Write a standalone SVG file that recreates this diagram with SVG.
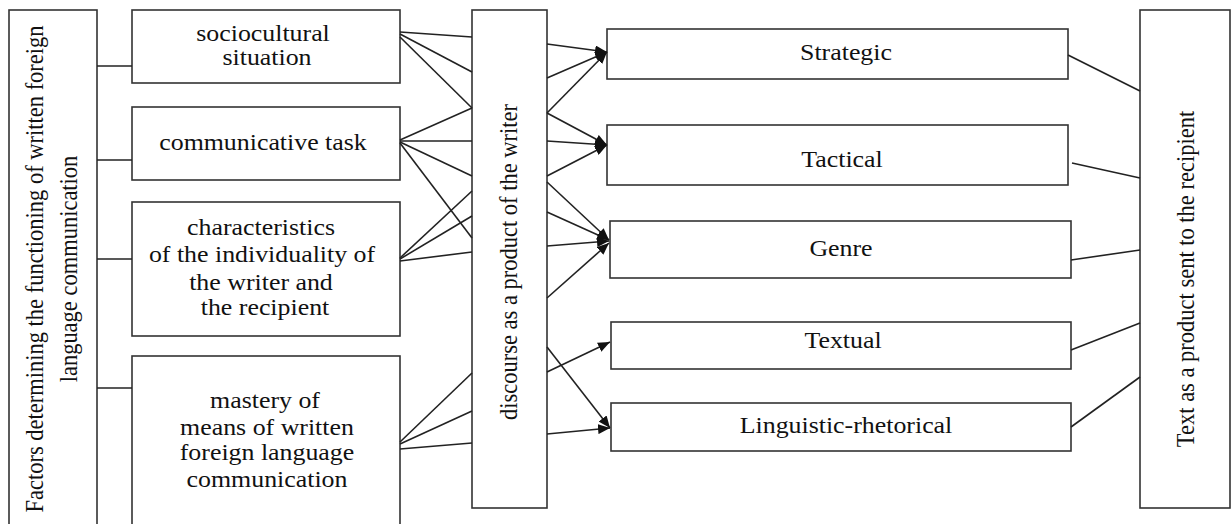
<svg xmlns="http://www.w3.org/2000/svg" width="1232" height="524" viewBox="0 0 1232 524">
<style>
.box{fill:#fff;stroke:#333;stroke-width:1.6}
.t{font-size:22.5px;fill:#111;text-anchor:middle}
.c{stroke:#222;stroke-width:1.6;fill:none}
.a{stroke:#222;stroke-width:1.6;fill:none;marker-end:url(#arr)}
</style>
<defs>
<marker id="arr" markerUnits="userSpaceOnUse" markerWidth="12" markerHeight="10" viewBox="0 0 12 10" refX="12" refY="5" orient="auto">
<path d="M0,0 L12,5 L0,10 z" fill="#111"/>
</marker>
</defs>
<rect width="1232" height="524" fill="#fff"/>
<g font-family="Liberation Serif, DejaVu Serif, serif">
<g id="factors">
<rect class="box" x="9" y="10" width="88" height="530"/>
<text class="t" transform="translate(43,269) scale(1.15,1) rotate(-90)">Factors determining the functioning of written foreign</text>
<text class="t" transform="translate(77,269) scale(1.15,1) rotate(-90)">language communication</text>
</g>

<g id="sociocultural">
<rect class="box" x="132" y="10" width="268" height="73"/>
<text class="t" transform="translate(263,41) scale(1.15,1)">sociocultural</text>
<text class="t" transform="translate(267,65) scale(1.15,1)">situation</text>
</g>

<g id="communicative">
<rect class="box" x="132" y="107" width="268" height="73"/>
<text class="t" transform="translate(263,150) scale(1.15,1)">communicative task</text>
</g>

<g id="characteristics">
<rect class="box" x="132" y="202" width="268" height="134"/>
<text class="t" transform="translate(261,235) scale(1.15,1)">characteristics</text>
<text class="t" transform="translate(262,262) scale(1.15,1)">of the individuality of</text>
<text class="t" transform="translate(261,290) scale(1.15,1)">the writer and</text>
<text class="t" transform="translate(265,315) scale(1.15,1)">the recipient</text>
</g>

<g id="mastery">
<rect class="box" x="132" y="356" width="268" height="190"/>
<text class="t" transform="translate(265,408) scale(1.15,1)">mastery of</text>
<text class="t" transform="translate(267,435) scale(1.15,1)">means of written</text>
<text class="t" transform="translate(267,460) scale(1.15,1)">foreign language</text>
<text class="t" transform="translate(267,487) scale(1.15,1)">communication</text>
</g>

<g id="discourse">
<rect class="box" x="472" y="10" width="75" height="498"/>
<text class="t" transform="translate(517,262) scale(1.15,1) rotate(-90)">discourse as a product of the writer</text>
</g>

<g id="strategic">
<rect class="box" x="607" y="29" width="461" height="50"/>
<text class="t" transform="translate(846,60) scale(1.15,1)">Strategic</text>
</g>

<g id="tactical">
<rect class="box" x="607" y="125" width="461" height="60"/>
<text class="t" transform="translate(842,167) scale(1.15,1)">Tactical</text>
</g>

<g id="genre">
<rect class="box" x="610" y="221" width="461" height="57"/>
<text class="t" transform="translate(841,256) scale(1.15,1)">Genre</text>
</g>

<g id="textual">
<rect class="box" x="611" y="322" width="460" height="47"/>
<text class="t" transform="translate(843,348) scale(1.15,1)">Textual</text>
</g>

<g id="linguistic">
<rect class="box" x="611" y="403" width="460" height="48"/>
<text class="t" transform="translate(846,433) scale(1.15,1)">Linguistic-rhetorical</text>
</g>

<g id="text-product">
<rect class="box" x="1140" y="10" width="90" height="498"/>
<text class="t" transform="translate(1194,279) scale(1.15,1) rotate(-90)">Text as a product sent to the recipient</text>
</g>
</g>

<g id="connectors">
<line class="c" x1="97" y1="66" x2="132" y2="66"/>
<line class="c" x1="97" y1="160" x2="132" y2="160"/>
<line class="c" x1="97" y1="259" x2="132" y2="259"/>
<line class="c" x1="97" y1="388" x2="132" y2="388"/>

<line class="c" x1="400" y1="32" x2="472" y2="37"/>
<line class="c" x1="400" y1="34" x2="472" y2="72"/>
<line class="c" x1="400" y1="37" x2="472" y2="108"/>
<line class="c" x1="400" y1="140" x2="472" y2="108"/>
<line class="c" x1="400" y1="141" x2="472" y2="141"/>
<line class="c" x1="400" y1="142" x2="472" y2="176"/>
<line class="c" x1="400" y1="143" x2="472" y2="238"/>
<line class="c" x1="400" y1="258" x2="472" y2="191"/>
<line class="c" x1="400" y1="259" x2="472" y2="216"/>
<line class="c" x1="400" y1="261" x2="472" y2="252"/>
<line class="c" x1="400" y1="442" x2="472" y2="373"/>
<line class="c" x1="400" y1="444" x2="472" y2="411"/>
<line class="c" x1="400" y1="449" x2="472" y2="443"/>

<line class="a" x1="547" y1="44" x2="607" y2="52"/>
<line class="a" x1="547" y1="78" x2="607" y2="52"/>
<line class="a" x1="547" y1="113" x2="607" y2="52"/>
<line class="a" x1="547" y1="113" x2="607" y2="145"/>
<line class="a" x1="547" y1="141" x2="607" y2="145"/>
<line class="a" x1="547" y1="176" x2="607" y2="145"/>
<line class="a" x1="547" y1="182" x2="609" y2="240"/>
<line class="a" x1="547" y1="212" x2="609" y2="240"/>
<line class="a" x1="547" y1="246" x2="609" y2="241"/>
<line class="a" x1="547" y1="298" x2="609" y2="243"/>
<line class="a" x1="547" y1="372" x2="610" y2="342"/>
<line class="a" x1="547" y1="347" x2="610" y2="428"/>
<line class="a" x1="547" y1="434" x2="610" y2="428"/>

<line class="c" x1="1068" y1="55" x2="1140" y2="91"/>
<line class="c" x1="1072" y1="163" x2="1140" y2="178"/>
<line class="c" x1="1071" y1="260" x2="1140" y2="250"/>
<line class="c" x1="1071" y1="350" x2="1140" y2="323"/>
<line class="c" x1="1071" y1="427" x2="1140" y2="377"/>
</g>
</svg>
